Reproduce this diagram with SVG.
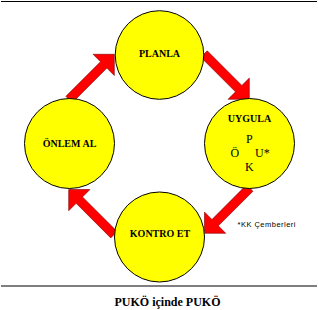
<svg xmlns="http://www.w3.org/2000/svg" width="318" height="310" viewBox="0 0 318 310">
<style>
.node{fill:#FFFF00;stroke:#000;stroke-width:1}
.arrow{fill:#FF0000;stroke:#7a0000;stroke-width:0.6;stroke-linejoin:miter}
.serif{font-family:Liberation Serif, Times New Roman, serif}
.lbl{font-weight:bold;font-size:10px;text-anchor:middle;fill:#000}
.pk{font-size:12px;fill:#000}
.rule{stroke:#000;stroke-width:1.2}
</style>
<rect width="318" height="310" fill="#fff"/>
<line class="rule" x1="1" y1="1.5" x2="317" y2="1.5"/>
<line class="rule" x1="1" y1="286" x2="317" y2="286"/>
<g id="connectors">
<polygon class="arrow" points="72.23,102.73 106.88,68.08 114.3,75.5 114.3,54.3 93.08,54.3 100.51,61.73 65.87,96.37"/>
<polygon class="arrow" points="200.87,57.23 235.51,91.87 228.08,99.3 249.3,99.3 249.3,78.08 241.87,85.51 207.23,50.87"/>
<polygon class="arrow" points="246.57,184.87 211.93,219.51 204.5,212.08 204.5,233.3 225.72,233.3 218.29,225.87 252.93,191.23"/>
<polygon class="arrow" points="117.13,231.57 82.49,196.93 89.92,189.5 68.7,189.5 68.7,210.72 76.13,203.29 110.77,237.93"/>
</g>
<g id="planla">
<circle class="node" cx="159.5" cy="55" r="44.3"/>
<text class="serif lbl" x="159.5" y="57">PLANLA</text>
</g>
<g id="uygula">
<circle class="node" cx="249.5" cy="143.5" r="45"/>
<text class="serif lbl" x="249.5" y="121.7">UYGULA</text>
<text class="serif pk" x="246" y="143.3">P</text>
<text class="serif pk" x="230.5" y="157.3">Ö</text>
<text class="serif pk" x="255" y="157.3">U*</text>
<text class="serif pk" x="245" y="171">K</text>
</g>
<g id="onlem-al">
<circle class="node" cx="69.5" cy="143.5" r="45"/>
<text class="serif lbl" x="69.5" y="146.7">ÖNLEM AL</text>
</g>
<g id="kontrol-et">
<circle class="node" cx="159.5" cy="237" r="45"/>
<text class="serif lbl" x="160" y="236.7">KONTRO ET</text>
</g>
<text x="237.5" y="227" font-family="Liberation Sans, Arial, sans-serif" font-size="7.5" textLength="58" lengthAdjust="spacing" fill="#000">*KK Çemberleri</text>
<text class="serif" x="167.5" y="306" font-weight="bold" font-size="12" text-anchor="middle" fill="#000">PUKÖ içinde PUKÖ</text>
</svg>
